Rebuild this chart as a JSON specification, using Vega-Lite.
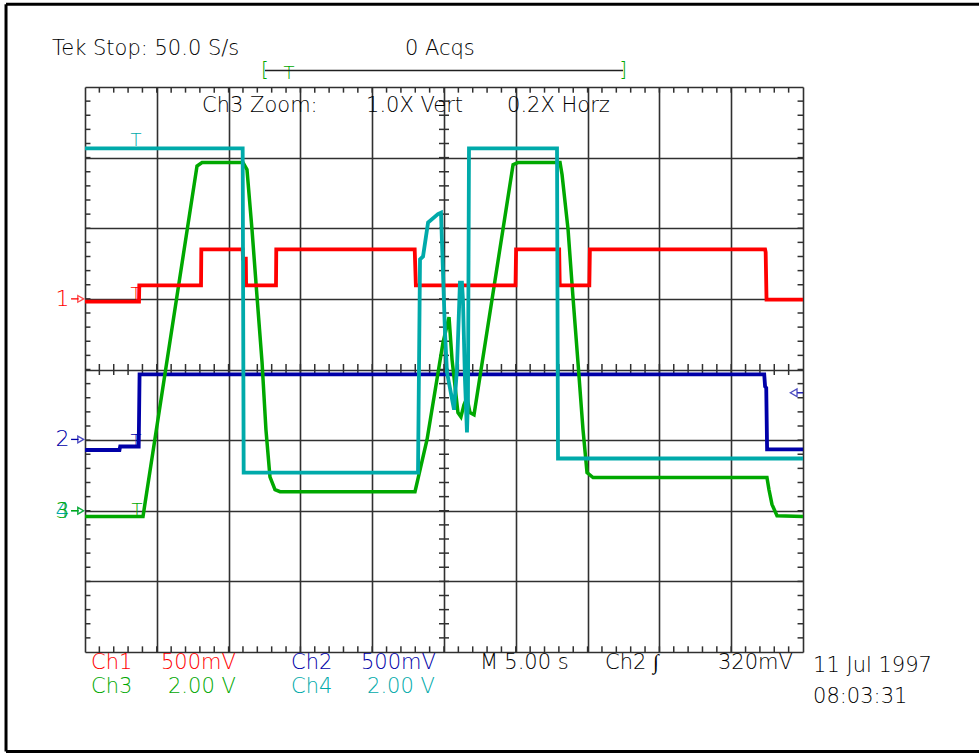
{
  "$schema": "https://vega.github.io/schema/vega-lite/v6.json",
  "width": 718,
  "height": 565,
  "autosize": {"type": "none"},
  "padding": {"left": 85, "top": 87, "right": 176, "bottom": 101},
  "background": "white",
  "config": {
    "view": {"stroke": null},
    "axis": {"labels": false, "ticks": false, "domain": false, "grid": true, "gridColor": "#303030", "gridWidth": 1.6, "gridOpacity": 1},
    "text": {"font": "DejaVu Sans", "fontWeight": 200}
  },
  "datasets": {
    "traces": [
      {"ch": "ch2", "t": 0, "v": -1.14}, {"ch": "ch2", "t": 2.4, "v": -1.14}, {"ch": "ch2", "t": 2.45, "v": -1.09}, {"ch": "ch2", "t": 3.74, "v": -1.09}, {"ch": "ch2", "t": 3.8, "v": -0.07}, {"ch": "ch2", "t": 47.3, "v": -0.07}, {"ch": "ch2", "t": 47.36, "v": -0.24}, {"ch": "ch2", "t": 47.44, "v": -0.26}, {"ch": "ch2", "t": 47.5, "v": -1.13}, {"ch": "ch2", "t": 50, "v": -1.13},

      {"ch": "ch3", "t": 0, "v": -2.08}, {"ch": "ch3", "t": 4.04, "v": -2.08}, {"ch": "ch3", "t": 7.8, "v": 2.88}, {"ch": "ch3", "t": 8.15, "v": 2.93}, {"ch": "ch3", "t": 11.0, "v": 2.93}, {"ch": "ch3", "t": 11.28, "v": 2.83}, {"ch": "ch3", "t": 11.63, "v": 1.98}, {"ch": "ch3", "t": 11.98, "v": 1.03}, {"ch": "ch3", "t": 12.33, "v": 0.1}, {"ch": "ch3", "t": 12.6, "v": -0.85}, {"ch": "ch3", "t": 12.88, "v": -1.52}, {"ch": "ch3", "t": 13.23, "v": -1.7}, {"ch": "ch3", "t": 13.58, "v": -1.73}, {"ch": "ch3", "t": 22.98, "v": -1.73}, {"ch": "ch3", "t": 23.82, "v": -0.99}, {"ch": "ch3", "t": 24.93, "v": 0.38}, {"ch": "ch3", "t": 25.35, "v": 0.74}, {"ch": "ch3", "t": 25.56, "v": 0.14}, {"ch": "ch3", "t": 25.77, "v": -0.24}, {"ch": "ch3", "t": 25.97, "v": -0.61}, {"ch": "ch3", "t": 26.18, "v": -0.67}, {"ch": "ch3", "t": 26.39, "v": -0.5}, {"ch": "ch3", "t": 26.6, "v": -0.4}, {"ch": "ch3", "t": 26.81, "v": -0.61}, {"ch": "ch3", "t": 27.09, "v": -0.64}, {"ch": "ch3", "t": 29.81, "v": 2.9}, {"ch": "ch3", "t": 30.15, "v": 2.93}, {"ch": "ch3", "t": 33.08, "v": 2.93}, {"ch": "ch3", "t": 33.22, "v": 2.76}, {"ch": "ch3", "t": 33.64, "v": 1.98}, {"ch": "ch3", "t": 33.98, "v": 1.03}, {"ch": "ch3", "t": 34.33, "v": 0.1}, {"ch": "ch3", "t": 34.68, "v": -0.85}, {"ch": "ch3", "t": 34.96, "v": -1.46}, {"ch": "ch3", "t": 35.38, "v": -1.53}, {"ch": "ch3", "t": 47.49, "v": -1.53}, {"ch": "ch3", "t": 47.63, "v": -1.7}, {"ch": "ch3", "t": 47.84, "v": -1.91}, {"ch": "ch3", "t": 48.19, "v": -2.07}, {"ch": "ch3", "t": 50, "v": -2.08},

      {"ch": "ch1", "t": 0, "v": 0.96}, {"ch": "ch1", "t": 3.76, "v": 0.96}, {"ch": "ch1", "t": 3.78, "v": 1.19}, {"ch": "ch1", "t": 8.08, "v": 1.19}, {"ch": "ch1", "t": 8.1, "v": 1.7}, {"ch": "ch1", "t": 10.98, "v": 1.7}, {"ch": "ch1", "t": 11.0, "v": 1.57}, {"ch": "ch1", "t": 11.2, "v": 1.57}, {"ch": "ch1", "t": 11.22, "v": 1.19}, {"ch": "ch1", "t": 13.3, "v": 1.19}, {"ch": "ch1", "t": 13.32, "v": 1.7}, {"ch": "ch1", "t": 22.96, "v": 1.7}, {"ch": "ch1", "t": 23.04, "v": 1.19}, {"ch": "ch1", "t": 29.98, "v": 1.19}, {"ch": "ch1", "t": 30.02, "v": 1.7}, {"ch": "ch1", "t": 33.02, "v": 1.7}, {"ch": "ch1", "t": 33.06, "v": 1.19}, {"ch": "ch1", "t": 35.12, "v": 1.19}, {"ch": "ch1", "t": 35.16, "v": 1.7}, {"ch": "ch1", "t": 47.36, "v": 1.7}, {"ch": "ch1", "t": 47.4, "v": 1.66}, {"ch": "ch1", "t": 47.46, "v": 0.99}, {"ch": "ch1", "t": 50, "v": 0.99},

      {"ch": "ch4", "t": 0, "v": 3.13}, {"ch": "ch4", "t": 10.98, "v": 3.13}, {"ch": "ch4", "t": 11.05, "v": -1.46}, {"ch": "ch4", "t": 23.19, "v": -1.46}, {"ch": "ch4", "t": 23.33, "v": 1.56}, {"ch": "ch4", "t": 23.54, "v": 1.6}, {"ch": "ch4", "t": 23.89, "v": 2.08}, {"ch": "ch4", "t": 24.58, "v": 2.2}, {"ch": "ch4", "t": 24.79, "v": 2.22}, {"ch": "ch4", "t": 24.86, "v": 1.8}, {"ch": "ch4", "t": 25.07, "v": 0.52}, {"ch": "ch4", "t": 25.21, "v": -0.04}, {"ch": "ch4", "t": 25.56, "v": -0.42}, {"ch": "ch4", "t": 25.7, "v": -0.57}, {"ch": "ch4", "t": 25.9, "v": 0.0}, {"ch": "ch4", "t": 26.11, "v": 1.23}, {"ch": "ch4", "t": 26.25, "v": 1.23}, {"ch": "ch4", "t": 26.32, "v": 0.99}, {"ch": "ch4", "t": 26.46, "v": -0.14}, {"ch": "ch4", "t": 26.6, "v": -0.89}, {"ch": "ch4", "t": 26.67, "v": -0.42}, {"ch": "ch4", "t": 26.74, "v": 3.13}, {"ch": "ch4", "t": 32.87, "v": 3.13}, {"ch": "ch4", "t": 32.94, "v": -1.26}, {"ch": "ch4", "t": 50, "v": -1.26}
    ],
    "xminor": [
      {"t": 1}, {"t": 2}, {"t": 3}, {"t": 4}, {"t": 5}, {"t": 6}, {"t": 7}, {"t": 8}, {"t": 9}, {"t": 10},
      {"t": 11}, {"t": 12}, {"t": 13}, {"t": 14}, {"t": 15}, {"t": 16}, {"t": 17}, {"t": 18}, {"t": 19}, {"t": 20},
      {"t": 21}, {"t": 22}, {"t": 23}, {"t": 24}, {"t": 25}, {"t": 26}, {"t": 27}, {"t": 28}, {"t": 29}, {"t": 30},
      {"t": 31}, {"t": 32}, {"t": 33}, {"t": 34}, {"t": 35}, {"t": 36}, {"t": 37}, {"t": 38}, {"t": 39}, {"t": 40},
      {"t": 41}, {"t": 42}, {"t": 43}, {"t": 44}, {"t": 45}, {"t": 46}, {"t": 47}, {"t": 48}, {"t": 49}
    ],
    "yminor": [
      {"v": -3.8}, {"v": -3.6}, {"v": -3.4}, {"v": -3.2}, {"v": -3.0}, {"v": -2.8}, {"v": -2.6}, {"v": -2.4}, {"v": -2.2}, {"v": -2.0},
      {"v": -1.8}, {"v": -1.6}, {"v": -1.4}, {"v": -1.2}, {"v": -1.0}, {"v": -0.8}, {"v": -0.6}, {"v": -0.4}, {"v": -0.2}, {"v": 0.0},
      {"v": 0.2}, {"v": 0.4}, {"v": 0.6}, {"v": 0.8}, {"v": 1.0}, {"v": 1.2}, {"v": 1.4}, {"v": 1.6}, {"v": 1.8}, {"v": 2.0},
      {"v": 2.2}, {"v": 2.4}, {"v": 2.6}, {"v": 2.8}, {"v": 3.0}, {"v": 3.2}, {"v": 3.4}, {"v": 3.6}, {"v": 3.8}
    ],
    "labels": [
      {"t": -2.3, "v": 4.46, "text": "Tek Stop: 50.0 S/s", "ch": "ink"},
      {"t": 22.28, "v": 4.46, "text": "0 Acqs", "ch": "ink"},
      {"t": 8.15, "v": 3.65, "text": "Ch3 Zoom:", "ch": "ink"},
      {"t": 19.57, "v": 3.65, "text": "1.0X Vert", "ch": "ink"},
      {"t": 29.39, "v": 3.65, "text": "0.2X Horz", "ch": "ink"},
      {"t": 0.42, "v": -4.24, "text": "Ch1", "ch": "ch1"},
      {"t": 5.29, "v": -4.24, "text": "500mV", "ch": "ch1"},
      {"t": 14.35, "v": -4.24, "text": "Ch2", "ch": "ch2"},
      {"t": 19.22, "v": -4.24, "text": "500mV", "ch": "ch2"},
      {"t": 27.5, "v": -4.24, "text": "M", "ch": "ink"},
      {"t": 29.2, "v": -4.24, "text": "5.00 s", "ch": "ink"},
      {"t": 36.21, "v": -4.24, "text": "Ch2 ∫", "ch": "ink"},
      {"t": 44.08, "v": -4.24, "text": "320mV", "ch": "ink"},
      {"t": 50.7, "v": -4.29, "text": "11 Jul 1997", "ch": "ink"},
      {"t": 50.7, "v": -4.72, "text": "08:03:31", "ch": "ink"},
      {"t": 0.42, "v": -4.575, "text": "Ch3", "ch": "ch3"},
      {"t": 5.78, "v": -4.575, "text": "2.00 V", "ch": "ch3"},
      {"t": 14.35, "v": -4.575, "text": "Ch4", "ch": "ch4"},
      {"t": 19.64, "v": -4.575, "text": "2.00 V", "ch": "ch4"}
    ],
    "gnd": [
      {"ch": "ch1", "label": "1", "v": 1.0},
      {"ch": "ch2", "label": "2", "v": -0.99},
      {"ch": "ch4", "label": "4", "v": -2.0},
      {"ch": "ch3", "label": "3", "v": -2.0}
    ],
    "trig": [
      {"ch": "ch4", "t": 3.55, "v": 3.16},
      {"ch": "ch1", "t": 3.55, "v": 0.99},
      {"ch": "ch2", "t": 3.55, "v": -1.1},
      {"ch": "ch3", "t": 3.62, "v": -2.08},
      {"ch": "ch3", "t": 14.21, "v": 4.12}
    ],
    "brackets": [
      {"ch": "ch3", "t": 12.53, "v": 4.235, "text": "["},
      {"ch": "ch3", "t": 37.47, "v": 4.235, "text": "]"}
    ]
  },
  "layer": [
    {
      "data": {"name": "xminor"},
      "mark": {"type": "rule", "color": "#303030", "strokeWidth": 1.5},
      "encoding": {
        "x": {"field": "t", "type": "quantitative", "scale": {"domain": [0, 50], "nice": false, "zero": false}, "axis": {"title": null, "tickCount": 10}},
        "y": {"datum": 4, "type": "quantitative", "scale": {"domain": [-4, 4], "nice": false, "zero": false}, "axis": {"title": null, "tickCount": 8}},
        "y2": {"datum": 3.92}
      }
    },
    {
      "data": {"name": "xminor"},
      "mark": {"type": "rule", "color": "#303030", "strokeWidth": 1.5},
      "encoding": {
        "x": {"field": "t", "type": "quantitative"},
        "y": {"datum": -4, "type": "quantitative"},
        "y2": {"datum": -3.92}
      }
    },
    {
      "data": {"name": "xminor"},
      "mark": {"type": "rule", "color": "#303030", "strokeWidth": 1.5},
      "encoding": {
        "x": {"field": "t", "type": "quantitative"},
        "y": {"datum": -0.078, "type": "quantitative"},
        "y2": {"datum": 0.078}
      }
    },
    {
      "data": {"name": "yminor"},
      "mark": {"type": "rule", "color": "#303030", "strokeWidth": 1.5},
      "encoding": {
        "y": {"field": "v", "type": "quantitative"},
        "x": {"datum": 0, "type": "quantitative"},
        "x2": {"datum": 0.38}
      }
    },
    {
      "data": {"name": "yminor"},
      "mark": {"type": "rule", "color": "#303030", "strokeWidth": 1.5},
      "encoding": {
        "y": {"field": "v", "type": "quantitative"},
        "x": {"datum": 49.62, "type": "quantitative"},
        "x2": {"datum": 50}
      }
    },
    {
      "data": {"name": "yminor"},
      "mark": {"type": "rule", "color": "#303030", "strokeWidth": 1.5},
      "encoding": {
        "y": {"field": "v", "type": "quantitative"},
        "x": {"datum": 24.65, "type": "quantitative"},
        "x2": {"datum": 25.35}
      }
    },
    {
      "data": {"name": "traces"},
      "transform": [{"filter": "datum.ch == 'ch2'"}],
      "mark": {"type": "line", "strokeWidth": 3.8, "interpolate": "linear"},
      "encoding": {
        "x": {"field": "t", "type": "quantitative"},
        "y": {"field": "v", "type": "quantitative"},
        "color": {"field": "ch", "type": "nominal", "legend": null, "scale": {"domain": ["ch1", "ch2", "ch3", "ch4", "ink"], "range": ["#ff0000", "#0000a8", "#00a800", "#00aaaa", "#000000"]}}
      }
    },
    {
      "data": {"name": "traces"},
      "transform": [{"filter": "datum.ch == 'ch3'"}],
      "mark": {"type": "line", "strokeWidth": 3.5},
      "encoding": {
        "x": {"field": "t", "type": "quantitative"},
        "y": {"field": "v", "type": "quantitative"},
        "color": {"field": "ch", "type": "nominal", "legend": null}
      }
    },
    {
      "data": {"name": "traces"},
      "transform": [{"filter": "datum.ch == 'ch1'"}],
      "mark": {"type": "line", "strokeWidth": 3.8},
      "encoding": {
        "x": {"field": "t", "type": "quantitative"},
        "y": {"field": "v", "type": "quantitative"},
        "color": {"field": "ch", "type": "nominal", "legend": null}
      }
    },
    {
      "data": {"name": "traces"},
      "transform": [{"filter": "datum.ch == 'ch4'"}],
      "mark": {"type": "line", "strokeWidth": 3.8},
      "encoding": {
        "x": {"field": "t", "type": "quantitative"},
        "y": {"field": "v", "type": "quantitative"},
        "color": {"field": "ch", "type": "nominal", "legend": null}
      }
    },
    {
      "data": {"name": "labels"},
      "mark": {"type": "text", "align": "left", "baseline": "alphabetic", "fontSize": 21},
      "encoding": {
        "x": {"field": "t", "type": "quantitative"},
        "y": {"field": "v", "type": "quantitative"},
        "text": {"field": "text"},
        "color": {"field": "ch", "type": "nominal", "legend": null}
      }
    },
    {
      "data": {"name": "gnd"},
      "mark": {"type": "text", "align": "center", "baseline": "middle", "fontSize": 22},
      "encoding": {
        "x": {"datum": -1.57, "type": "quantitative"},
        "y": {"field": "v", "type": "quantitative"},
        "text": {"field": "label"},
        "color": {"field": "ch", "type": "nominal", "legend": null}
      }
    },
    {
      "data": {"name": "gnd"},
      "mark": {"type": "rule", "strokeWidth": 1.3},
      "encoding": {
        "x": {"datum": -0.97, "type": "quantitative"},
        "x2": {"datum": -0.45},
        "y": {"field": "v", "type": "quantitative"},
        "color": {"field": "ch", "type": "nominal", "legend": null}
      }
    },
    {
      "data": {"name": "gnd"},
      "mark": {"type": "point", "shape": "triangle-right", "filled": false, "size": 45, "strokeWidth": 1.3},
      "encoding": {
        "x": {"datum": -0.3, "type": "quantitative"},
        "y": {"field": "v", "type": "quantitative"},
        "color": {"field": "ch", "type": "nominal", "legend": null}
      }
    },
    {
      "data": {"values": [{"ch": "ch2", "v": -0.33}]},
      "mark": {"type": "point", "shape": "triangle-left", "filled": false, "size": 60, "strokeWidth": 1.3},
      "encoding": {
        "x": {"datum": 49.35, "type": "quantitative"},
        "y": {"field": "v", "type": "quantitative"},
        "color": {"field": "ch", "type": "nominal", "legend": null}
      }
    },
    {
      "data": {"values": [{"ch": "ch2", "v": -0.33}]},
      "mark": {"type": "rule", "strokeWidth": 1.3},
      "encoding": {
        "x": {"datum": 49.6, "type": "quantitative"},
        "x2": {"datum": 50},
        "y": {"field": "v", "type": "quantitative"},
        "color": {"field": "ch", "type": "nominal", "legend": null}
      }
    },
    {
      "data": {"name": "trig"},
      "mark": {"type": "text", "align": "center", "baseline": "alphabetic", "fontSize": 18},
      "encoding": {
        "x": {"field": "t", "type": "quantitative"},
        "y": {"field": "v", "type": "quantitative"},
        "text": {"value": "T"},
        "color": {"field": "ch", "type": "nominal", "legend": null}
      }
    },
    {
      "data": {"values": [{"a": 12.53, "b": 37.47, "v": 4.235}]},
      "mark": {"type": "rule", "color": "#202020", "strokeWidth": 1.5},
      "encoding": {
        "x": {"field": "a", "type": "quantitative"},
        "x2": {"field": "b"},
        "y": {"field": "v", "type": "quantitative"}
      }
    },
    {
      "data": {"name": "brackets"},
      "mark": {"type": "text", "align": "center", "baseline": "middle", "fontSize": 20},
      "encoding": {
        "x": {"field": "t", "type": "quantitative"},
        "y": {"field": "v", "type": "quantitative"},
        "text": {"field": "text"},
        "color": {"field": "ch", "type": "nominal", "legend": null}
      }
    },
    {
      "data": {"values": [{"x": -5.5, "y1": 5.17, "y2": -5.41}]},
      "mark": {"type": "rule", "color": "#000000", "strokeWidth": 3},
      "encoding": {
        "x": {"field": "x", "type": "quantitative"},
        "y": {"field": "y1", "type": "quantitative"},
        "y2": {"field": "y2"}
      }
    },
    {
      "data": {"values": [{"x1": -5.5, "x2": 63, "y": 5.17}, {"x1": -5.5, "x2": 63, "y": -5.41}]},
      "mark": {"type": "rule", "color": "#000000", "strokeWidth": 3},
      "encoding": {
        "x": {"field": "x1", "type": "quantitative"},
        "x2": {"field": "x2"},
        "y": {"field": "y", "type": "quantitative"}
      }
    }
  ]
}
